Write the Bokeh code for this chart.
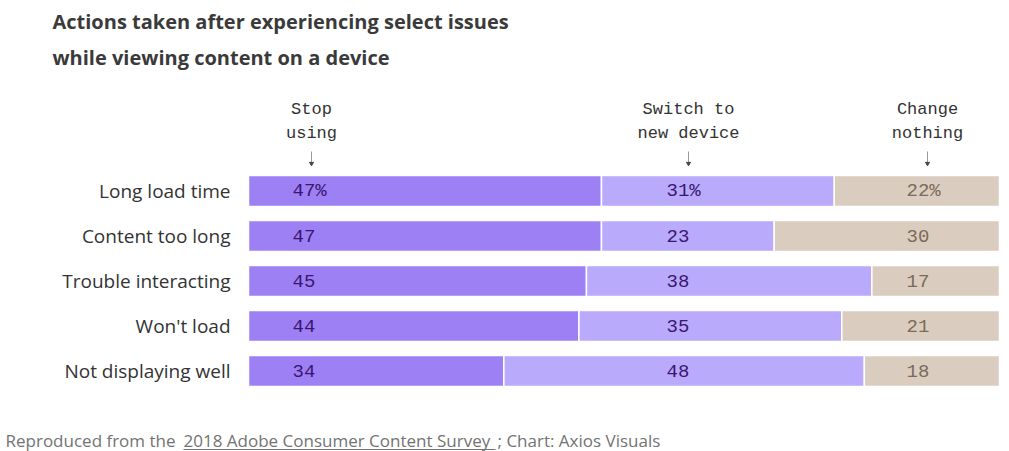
from bokeh.plotting import figure
from bokeh.models import ColumnDataSource, Range1d
from bokeh.core.properties import value
from bokeh.embed import file_html
from bokeh.resources import INLINE

# ---- data ----
categories = ["Long load time", "Content too long", "Trouble interacting", "Won't load", "Not displaying well"]
stop_using = [47, 47, 45, 44, 34]
switch_device = [31, 23, 38, 35, 48]
change_nothing = [22, 30, 17, 21, 18]
series_keys = ["stop", "switch", "change"]
header_line1 = ["Stop", "Switch to", "Change"]
header_line2 = ["using", "new device", "nothing"]
title_lines = ["Actions taken after experiencing select issues", "while viewing content on a device"]
footer_parts = ["Reproduced from the ", "2018 Adobe Consumer Content Survey", "; Chart: Axios Visuals"]

# ---- styling / layout ----
W, H = 1009, 451
X0, X1 = 248, 999            # pixel positions of 0% and 100%
sx = (X1 - X0) / 100.0
ROW0, PITCH = 190.5, 45.0    # pixel centre of first row, row pitch
colors = ["#9e80f5", "#b9aafb", "#dacdbf"]
text_colors = ["#3b1670", "#3b1670", "#7b6a58"]

def px_x(px):
    return (px - X0) / sx

def px_y(py):
    return (py - ROW0) / PITCH

p = figure(width=W, height=H, output_backend="svg", toolbar_location=None,
           x_range=Range1d(px_x(0), px_x(W)),
           y_range=Range1d(px_y(H), px_y(0)),
           min_border=0, outline_line_color=None)
p.axis.visible = False
p.grid.visible = False
p.background_fill_color = "white"
p.border_fill_color = "white"

rows = list(range(len(categories)))
src = ColumnDataSource(dict(y=rows, stop=stop_using, switch=switch_device, change=change_nothing,
                            cat=categories))
p.hbar_stack(series_keys, y="y", height=31 / PITCH, color=colors, source=src,
             line_color="white", line_width=1.5)

# category labels
p.text(x=[px_x(230)] * len(rows), y=rows, text=categories, text_align="right",
       text_baseline="middle", text_font=value("Open Sans"), text_font_size="19px",
       text_color="#333333")

# value labels
label_x = [px_x(292), px_x(666), px_x(906)]
series_vals = [stop_using, switch_device, change_nothing]
for k, vals in enumerate(series_vals):
    txt = [f"{v}%" if i == 0 else f"{v}" for i, v in enumerate(vals)]
    p.text(x=[label_x[k]] * len(vals), y=rows, text=txt, text_align="left",
           text_baseline="middle", text_font=value("Liberation Mono"),
           text_font_size="19px", text_color=text_colors[k])

# column headers
head_x = [px_x(311), px_x(688), px_x(927)]
p.text(x=head_x, y=[px_y(109)] * 3, text=header_line1, text_align="center",
       text_baseline="middle", text_font=value("Liberation Mono"),
       text_font_size="17px", text_color="#333333")
p.text(x=head_x, y=[px_y(133)] * 3, text=header_line2, text_align="center",
       text_baseline="middle", text_font=value("Liberation Mono"),
       text_font_size="17px", text_color="#333333")
# small arrows under headers
p.segment(x0=head_x, y0=[px_y(151)] * 3, x1=head_x, y1=[px_y(163)] * 3,
          line_color="#999999", line_width=1)
p.scatter(x=head_x, y=[px_y(163)] * 3, marker="inverted_triangle", size=4,
          fill_color="#444444", line_color="#444444")

# title
p.text(x=[px_x(52)] * 2, y=[px_y(21), px_y(57)], text=title_lines, text_align="left",
       text_baseline="middle", text_font=value("Open Sans"), text_font_size="20px",
       text_font_style="bold", text_color="#3a3a3a")

# footer
foot_x = [px_x(5), px_x(183), px_x(497)]
p.text(x=foot_x, y=[px_y(440)] * 3, text=footer_parts, text_align="left",
       text_baseline="middle", text_font=value("Open Sans"), text_font_size="17px",
       text_color="#737373")
p.segment(x0=[foot_x[1]], y0=[px_y(449)], x1=[px_x(495)], y1=[px_y(449)],
          line_color="#737373", line_width=1)

open("out.html", "w").write(file_html(p, INLINE))
